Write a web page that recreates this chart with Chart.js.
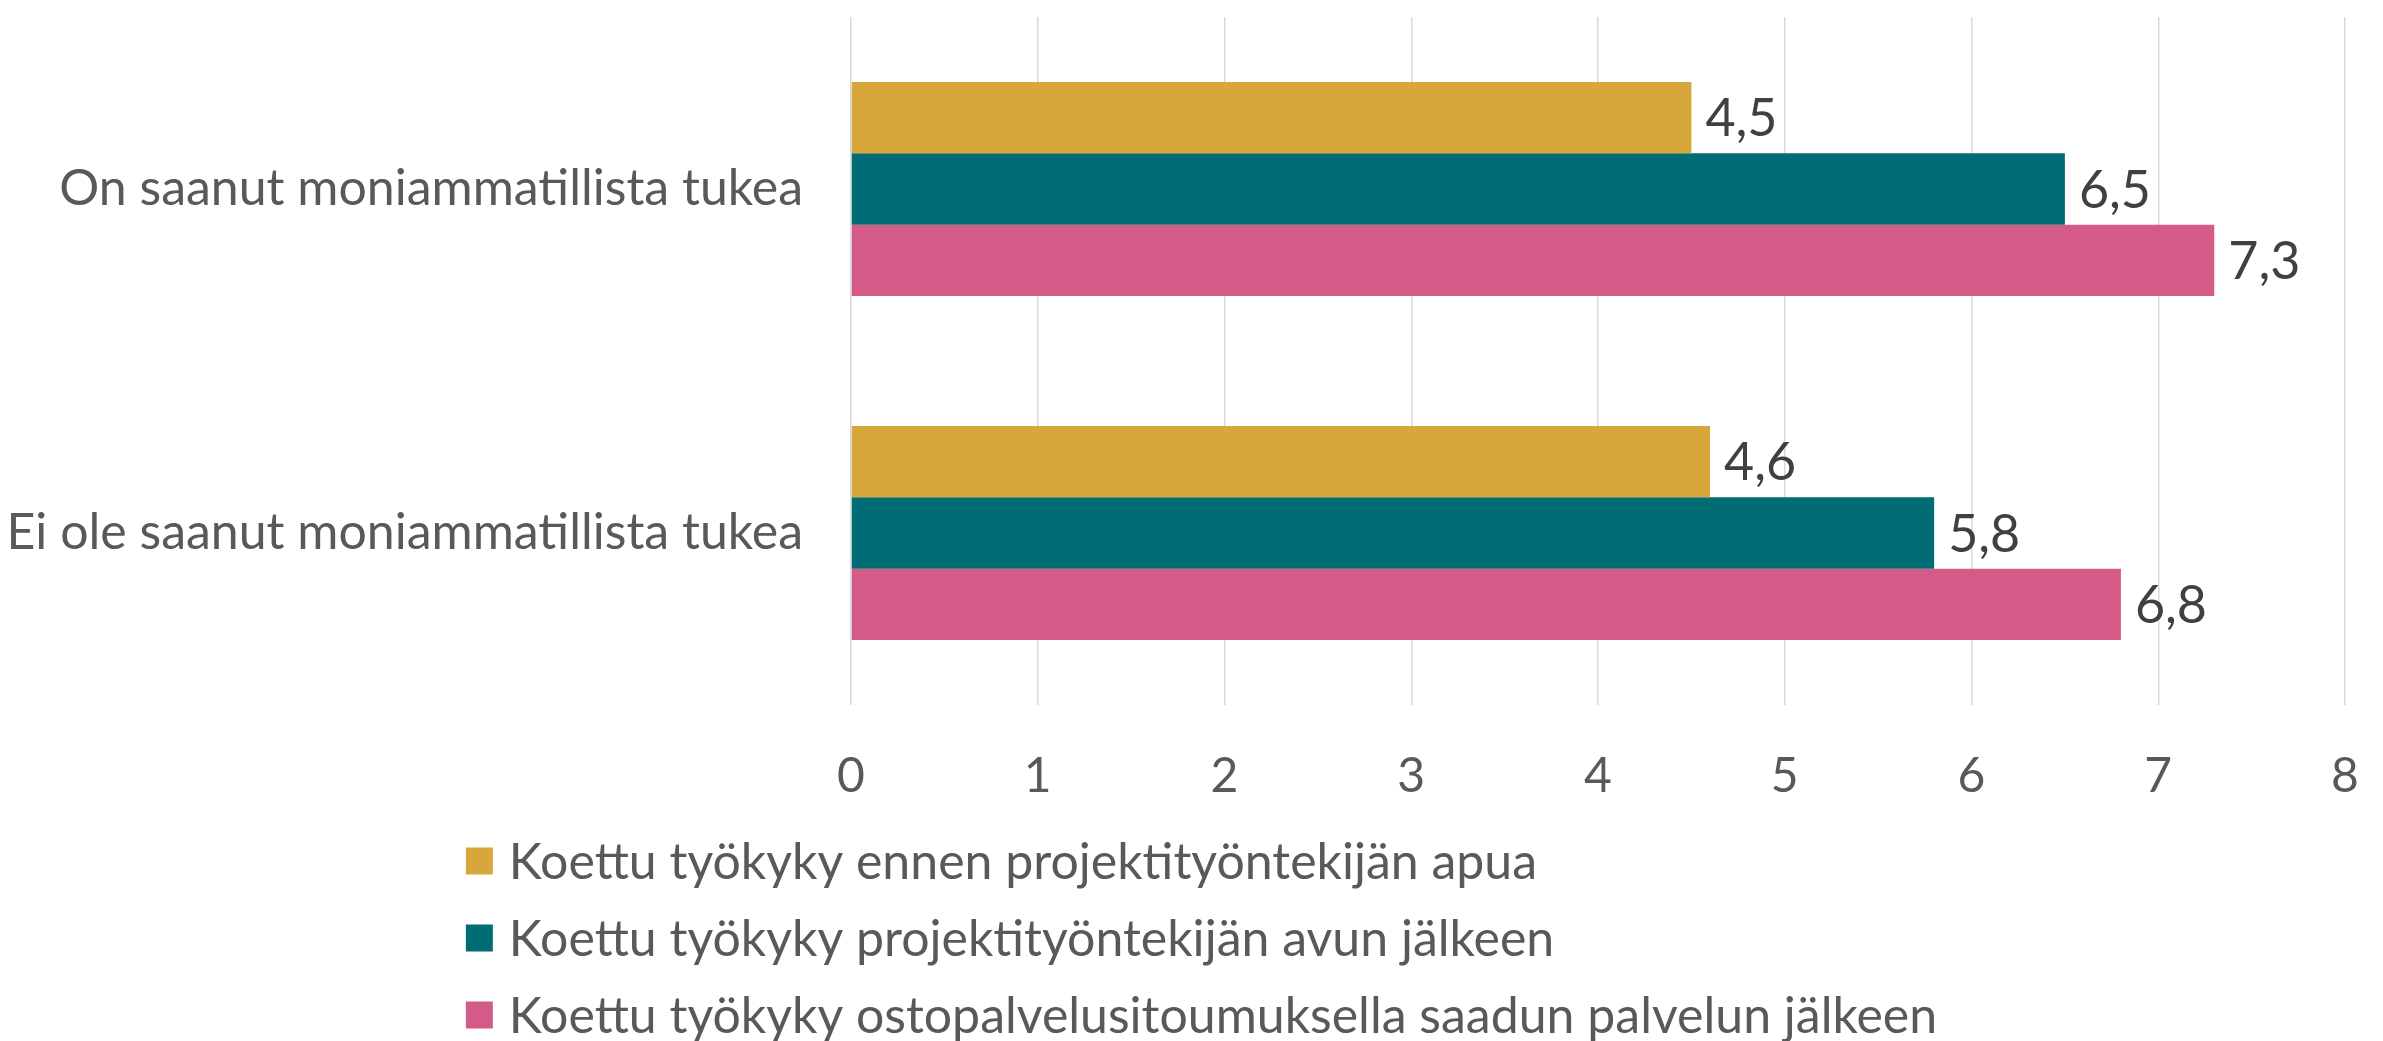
<!DOCTYPE html>
<html>
<head>
<meta charset="utf-8">
<script src="https://cdn.jsdelivr.net/npm/chart.js@4/dist/chart.umd.min.js"></script>
<style>
    html, body { margin: 0; padding: 0; background: #fff; }
    #wrap { width: 2383px; height: 1041px; }
</style>
</head>
<body>
<div id="wrap"><canvas id="tyokykyChart" width="2383" height="1041"></canvas></div>
<script>
// data
var categories = ["On saanut moniammatillista tukea", "Ei ole saanut moniammatillista tukea"];
var seriesNames = ["Koettu työkyky ennen projektityöntekijän apua",
    "Koettu työkyky projektityöntekijän avun jälkeen",
    "Koettu työkyky ostopalvelusitoumuksella saadun palvelun jälkeen"];
var ennen = [4.5, 4.6];
var avunJalkeen = [6.5, 5.8];
var ostopalvelu = [7.3, 6.8];
var xTicks = [0, 1, 2, 3, 4, 5, 6, 7, 8];

var colors = ['#D8A73B', '#006D74', '#D45B88'];
var FONT = 'Lato, "Open Sans", sans-serif';

// value labels at the end of each bar, finnish decimal comma
var barLabels = {
    id: 'barLabels',
    afterDatasetsDraw: function (chart) {
        var ctx = chart.ctx;
        ctx.save();
        ctx.font = '52px ' + FONT;
        ctx.fillStyle = '#404040';
        ctx.textAlign = 'left';
        ctx.textBaseline = 'middle';
        chart.data.datasets.forEach(function (ds, i) {
            chart.getDatasetMeta(i).data.forEach(function (bar, j) {
                ctx.fillText(String(ds.data[j]).replace('.', ','), bar.x + 14, bar.y + 2);
            });
        });
        ctx.restore();
    }
};

// legend: one item per row, rows left aligned, block centred
var stackedLegend = {
    id: 'stackedLegend',
    afterDraw: function (chart) {
        var ctx = chart.ctx;
        var box = 27, gap = 16, rowH = 77;
        ctx.save();
        ctx.font = '50px ' + FONT;
        var widest = 0;
        chart.data.datasets.forEach(function (ds) {
            widest = Math.max(widest, ctx.measureText(ds.label).width);
        });
        var left = (chart.width - (box + gap + widest)) / 2 + 10;
        var top = chart.scales.x.bottom + 56;
        ctx.textAlign = 'left';
        ctx.textBaseline = 'middle';
        chart.data.datasets.forEach(function (ds, i) {
            var y = top + i * rowH;
            ctx.fillStyle = ds.backgroundColor;
            ctx.fillRect(left, y - box / 2, box, box);
            ctx.fillStyle = '#595959';
            ctx.fillText(ds.label, left + box + gap, y + 2);
        });
        ctx.restore();
    }
};

var ctx = document.getElementById('tyokykyChart').getContext('2d');
var chart = new Chart(ctx, {
    type: 'bar',
    data: {
        labels: categories,
        datasets: [{
            label: seriesNames[0],
            backgroundColor: colors[0],
            data: ennen
        }, {
            label: seriesNames[1],
            backgroundColor: colors[1],
            data: avunJalkeen
        }, {
            label: seriesNames[2],
            backgroundColor: colors[2],
            data: ostopalvelu
        }]
    },
    options: {
        indexAxis: 'y',
        responsive: false,
        animation: false,
        layout: {
            padding: { top: 17, right: 38, bottom: 236, left: 0 }
        },
        datasets: {
            bar: { categoryPercentage: 0.622, barPercentage: 1.0 }
        },
        scales: {
            x: {
                min: xTicks[0],
                max: xTicks[xTicks.length - 1],
                afterBuildTicks: function (scale) {
                    scale.ticks = xTicks.map(function (v) { return { value: v }; });
                },
                afterFit: function (scale) {
                    scale.height = 100;
                    scale.paddingLeft = 0;
                    scale.paddingRight = 0;
                },
                grid: { color: '#d9d9d9', lineWidth: 1.5, drawTicks: false },
                border: { display: false },
                ticks: {
                    padding: 43,
                    color: '#595959',
                    font: { family: FONT, size: 48 }
                }
            },
            y: {
                afterFit: function (scale) {
                    scale.width = 851;
                    scale.paddingTop = 0;
                    scale.paddingBottom = 0;
                },
                grid: { display: false },
                border: { display: false },
                ticks: {
                    padding: 40,
                    color: '#595959',
                    font: { family: FONT, size: 50 }
                }
            }
        },
        plugins: {
            legend: { display: false },
            tooltip: { enabled: false }
        }
    },
    plugins: [barLabels, stackedLegend]
});
</script>
</body>
</html>
